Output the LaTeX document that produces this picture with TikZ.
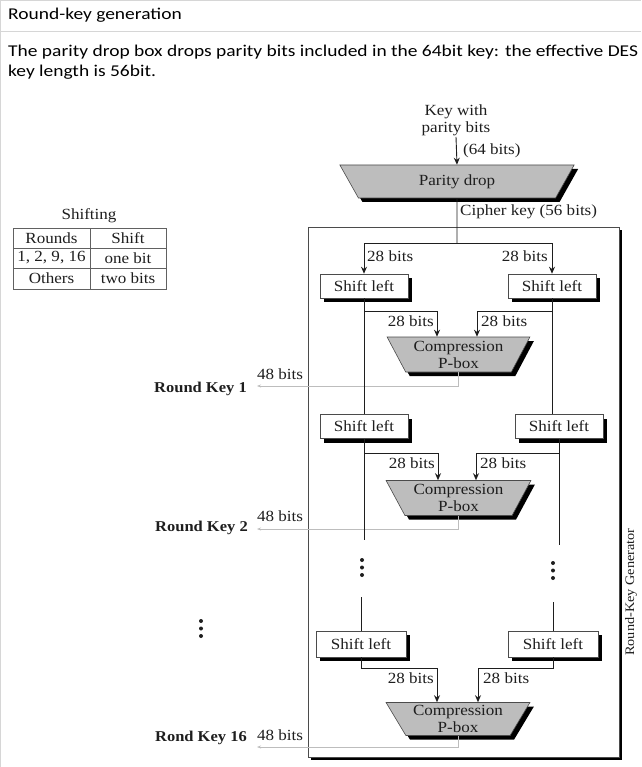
\documentclass[tikz,border=0pt]{standalone}
\usepackage{fontspec}
\setmainfont{Carlito}
\newfontfamily\bodyfont[FakeStretch=1.18]{Carlito}
\newfontfamily\dgm[FakeStretch=1.1]{Liberation Serif}
\usetikzlibrary{shapes.geometric,shadows,arrows.meta,calc}

\definecolor{rule}{HTML}{D6D6D6}
\definecolor{boxfill}{HTML}{BDBDBD}
\definecolor{keyline}{HTML}{BDBDBD}
\definecolor{ink}{HTML}{1E1E1E}

\begin{document}
\begin{tikzpicture}[x=1pt,y=-1pt,
  txt/.style={font=\bodyfont\fontsize{16.5}{20}\selectfont, inner sep=0pt, anchor=west},
  dg/.style={font=\dgm\fontsize{15.5}{17}\selectfont, text=ink},
  lbl/.style={dg, inner sep=0pt},
  boxshadow/.style={drop shadow={shadow xshift=4pt, shadow yshift=-4pt, opacity=1, fill=black}},
  shiftbox/.style={dg, draw=ink!80, line width=0.6pt, fill=white,
    minimum width=88pt, minimum height=24pt, inner sep=0pt, boxshadow},
  pbox/.style={dg, trapezium, shape border rotate=180, trapezium stretches=true,
    draw=ink!80, fill=boxfill, line width=0.6pt, inner sep=0pt, align=center, boxshadow},
  flow/.style={draw=ink, line width=0.9pt},
  arr/.style={flow, -{Stealth[length=7pt,width=6pt]}},
  keyarr/.style={draw=keyline, line width=0.6pt, -{Stealth[length=4pt,width=3pt]}},
  keylbl/.style={dg, font=\dgm\bfseries\fontsize{15}{17}\selectfont, inner sep=0pt, anchor=east},
  dot/.style={fill=ink},
]
\useasboundingbox (0,0) rectangle (641,767);

% page frame and heading
\draw[rule, line width=1pt] (0.5,0) -- (0.5,767);
\draw[rule, line width=1pt] (0,0.5) -- (641,0.5);
\draw[rule, line width=1pt] (0,32) -- (641,32);
\node[txt] (title) at (8,15) {Round-key generation};
\node[txt] (body1) at (8,52) {The parity drop box drops parity bits included in the 64bit key: the effective DES};
\node[txt] (body2) at (8,72) {key length is 56bit.};

% shifting table
\node[lbl] (shifting) at (89,216) {Shifting};
\draw[draw=ink!70, line width=1pt] (13,228) rectangle (166,289);
\draw[draw=ink!70, line width=0.8pt] (90,228) -- (90,289) (13,248) -- (166,248) (13,268) -- (166,268);
\node[lbl] (h1) at (51.5,238) {Rounds};
\node[lbl] (h2) at (128,238) {Shift};
\node[lbl] (r1a) at (51.5,258) {1, 2, 9, 16};
\node[lbl] (r1b) at (128,258) {one bit};
\node[lbl] (r2a) at (51.5,278) {Others};
\node[lbl] (r2b) at (128,278) {two bits};

% generator frame
\node[draw=ink!80, line width=0.8pt, fill=white, drop shadow={shadow xshift=3pt, shadow yshift=-3pt, opacity=1, fill=black},
      minimum width=311pt, minimum height=530pt, inner sep=0pt] (gen) at (463.5,492) {};
\node[dg, font=\dgm\fontsize{13}{15}\selectfont, rotate=90] (genlbl) at (631,592) {Round-Key Generator};

% input key and parity drop
\node[lbl, align=center] (key) at (456,120) {Key with\\parity bits};
\node[pbox, minimum width=235pt, minimum height=33pt,
      trapezium left angle=63, trapezium right angle=63] (parity) at (457,181.5) {Parity drop};
\draw[arr] (456,137) -- (parity.north);
\node[lbl, anchor=west] (in64) at (463,151) {(64 bits)};
\node[lbl, anchor=west] (cipher) at (460,212) {Cipher key (56 bits)};
\coordinate (split) at (457,243);
\draw[flow] (parity.south) -- (split);

% first round
\node[shiftbox] (sl1) at (364,286) {Shift left};
\node[shiftbox] (sr1) at (552,286) {Shift left};
\draw[arr] (split) -| (sl1.north);
\draw[arr] (split) -| (sr1.north);
\node[lbl, anchor=west] (b1l) at (367,256) {28 bits};
\node[lbl, anchor=east] (b1r) at (548,256) {28 bits};

\node[pbox, minimum width=143pt, minimum height=35pt, trapezium angle=60] (pb1) at (458.5,354.5) {Compression\\P-box};
\coordinate (j1l) at (437,311);
\coordinate (j1r) at (477,311);
\draw[arr] (sl1.south) |- (j1l) -- (j1l |- pb1.north);
\draw[arr] (sr1.south) |- (j1r) -- (j1r |- pb1.north);
\node[lbl, anchor=east] (c1l) at (434,321) {28 bits};
\node[lbl, anchor=west] (c1r) at (481,321) {28 bits};

\coordinate (k1) at (257,386);
\draw[keyarr] (pb1.south) |- (k1);
\node[lbl] (w1) at (280,374) {48 bits};
\node[keylbl] (rk1) at (247,389) {Round Key 1};

% second round
\node[shiftbox] (sl2) at (364,426.5) {Shift left};
\node[shiftbox] (sr2) at (559,426.5) {Shift left};
\draw[flow] (sl1.south) -- (sl2.north);
\draw[flow] (sr1.south) -- (sr1.south |- sr2.north);

\node[pbox, minimum width=145pt, minimum height=35pt, trapezium angle=60] (pb2) at (458.5,498) {Compression\\P-box};
\coordinate (j2l) at (438,453);
\coordinate (j2r) at (476,453);
\draw[arr] (sl2.south) |- (j2l) -- (j2l |- pb2.north);
\draw[arr] (sr2.south) |- (j2r) -- (j2r |- pb2.north);
\node[lbl, anchor=east] (c2l) at (435,463) {28 bits};
\node[lbl, anchor=west] (c2r) at (480,463) {28 bits};

\coordinate (k2) at (257,529);
\draw[keyarr] (pb2.south) |- (k2);
\node[lbl] (w2) at (280,516) {48 bits};
\node[keylbl] (rk2) at (248,528) {Round Key 2};

% elided rounds
\coordinate (gl1) at (364,540);
\coordinate (gl2) at (361,597);
\coordinate (gr1) at (559,545);
\coordinate (gr2) at (553,602);
\draw[flow] (sl2.south) -- (gl1);
\draw[flow] (sr2.south) -- (gr1);
\foreach \yy in {560,567.5,575} \fill[dot] (362,\yy) circle (2pt);
\foreach \yy in {563,570.5,578} \fill[dot] (553,\yy) circle (2pt);
\foreach \yy in {621,628.5,636} \fill[dot] (201,\yy) circle (2pt);

% last round
\node[shiftbox, minimum height=26pt, minimum width=90pt] (sl3) at (361,644) {Shift left};
\node[shiftbox, minimum height=26pt, minimum width=90pt] (sr3) at (553,644) {Shift left};
\draw[flow] (gl2) -- (sl3.north);
\draw[flow] (gr2) -- (sr3.north);

\node[pbox, minimum width=144pt, minimum height=33pt, trapezium angle=58] (pb3) at (458,719) {Compression\\P-box};
\coordinate (j3l) at (437,668);
\coordinate (j3r) at (478,668);
\draw[arr] (sl3.south) |- (j3l) -- (j3l |- pb3.north);
\draw[arr] (sr3.south) |- (j3r) -- (j3r |- pb3.north);
\node[lbl, anchor=east] (c3l) at (434,678) {28 bits};
\node[lbl, anchor=west] (c3r) at (483,678) {28 bits};

\coordinate (k3) at (257,747);
\draw[keyarr] (pb3.south) |- (k3);
\node[lbl] (w3) at (280,735) {48 bits};
\node[keylbl] (rk3) at (247,738) {Rond Key 16};
\end{tikzpicture}
\end{document}
